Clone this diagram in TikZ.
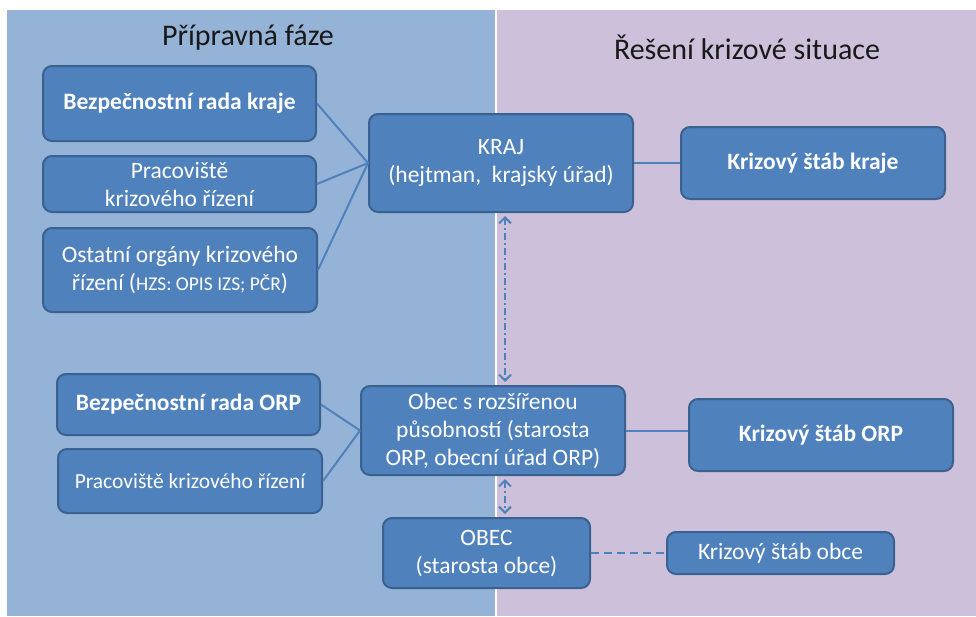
\documentclass[tikz,border=0pt]{standalone}
\usepackage{fontspec}
\setmainfont{Carlito}
\usetikzlibrary{positioning,arrows.meta}
\definecolor{panelmodra}{HTML}{95B3D7}
\definecolor{panelfialova}{HTML}{CCC0DA}
\definecolor{boxfill}{HTML}{4F81BD}
\definecolor{boxdraw}{HTML}{3A6190}
\tikzset{
	box/.style={
		rectangle,
		rounded corners=9pt,
		fill=boxfill,
		draw=boxdraw, line width=2pt,
		text=white,
		align=center,
		inner sep=2pt,
		font=\fontsize{23.5}{28}\selectfont},
	boxbold/.style={box, font=\fontsize{23.5}{28}\selectfont\bfseries},
	line/.style={draw=boxfill, line width=2pt},
	dvojsipka/.style={line,
		{Straight Barb[width=12pt,length=6pt]}-{Straight Barb[width=12pt,length=6pt]},
		dash pattern=on 7pt off 3pt on 2pt off 3pt,
		shorten >=3pt, shorten <=3pt},
	carkovana/.style={line, dash pattern=on 8pt off 5pt},
	nadpis/.style={font=\fontsize{30}{36}\selectfont, text=black!90},
}
\begin{document}
\begin{tikzpicture}[x=1pt,y=-1pt]
	\useasboundingbox (0,0) rectangle (976,616);
	% pozadi
	\fill[panelmodra] (7,10) rectangle (495,616);
	\fill[panelfialova] (497,10) rectangle (976,616);
	\node[nadpis] (pripravna) at (248,38) {Přípravná fáze};
	\node[nadpis] (reseni) at (747,47) {Řešení krizové situace};

	% kraj
	\node[boxbold, minimum width=273pt, minimum height=75pt] (radakraje) at (179.5,103.5) {Bezpečnostní rada kraje};
	\node[box, minimum width=273pt, minimum height=56pt] (pracoviste) at (179.5,184) {Pracoviště\\krizového řízení};
	\node[box, minimum width=274pt, minimum height=84pt] (ostatni) at (180,270) {Ostatní orgány krizového\\řízení ({\fontsize{19.5}{24}\selectfont HZS: OPIS IZS; PČR})};
	\node[box, minimum width=264pt, minimum height=98pt] (kraj) at (501,163) {KRAJ\\(hejtman,~ krajský úřad)};
	\node[boxbold, minimum width=264pt, minimum height=72pt] (stabkraj) at (813,163) {Krizový štáb kraje};

	% ORP
	\node[boxbold, minimum width=263pt, minimum height=61pt] (radaorp) at (188.5,404.5) {Bezpečnostní rada ORP};
	\node[box, minimum width=264pt, minimum height=64pt, font=\fontsize{21.5}{26}\selectfont] (pracovisteorp) at (190,481) {Pracoviště krizového řízení};
	\node[box, minimum width=264pt, minimum height=89pt] (obecorp) at (493,430.5) {Obec s rozšířenou\\působností (starosta\\ORP, obecní úřad ORP)};
	\node[boxbold, minimum width=264pt, minimum height=72pt] (staborp) at (821,435) {Krizový štáb ORP};

	% obec
	\node[box, minimum width=207pt, minimum height=70pt] (obec) at (486.5,553) {OBEC\\(starosta obce)};
	\node[box, minimum width=227pt, minimum height=42pt] (stabobce) at (780.5,553) {Krizový štáb obce};

	\coordinate (osa) at (505,0);

	\draw[line] (radakraje.east) -- (kraj.west);
	\draw[line] (pracoviste.east) -- (kraj.west);
	\draw[line] (ostatni.east) -- (kraj.west);
	\draw[line] (kraj.east) -- (stabkraj.west);
	\draw[dvojsipka] (kraj.south -| osa) -- (obecorp.north -| osa);
	\draw[line] (radaorp.east) -- (obecorp.west);
	\draw[line] (pracovisteorp.east) -- (obecorp.west);
	\draw[line] (obecorp.east) -- (obecorp.east -| staborp.west);
	\draw[dvojsipka] (obecorp.south -| osa) -- (obec.north -| osa);
	\draw[carkovana] (obec.east) -- (stabobce.west);
\end{tikzpicture}
\end{document}
